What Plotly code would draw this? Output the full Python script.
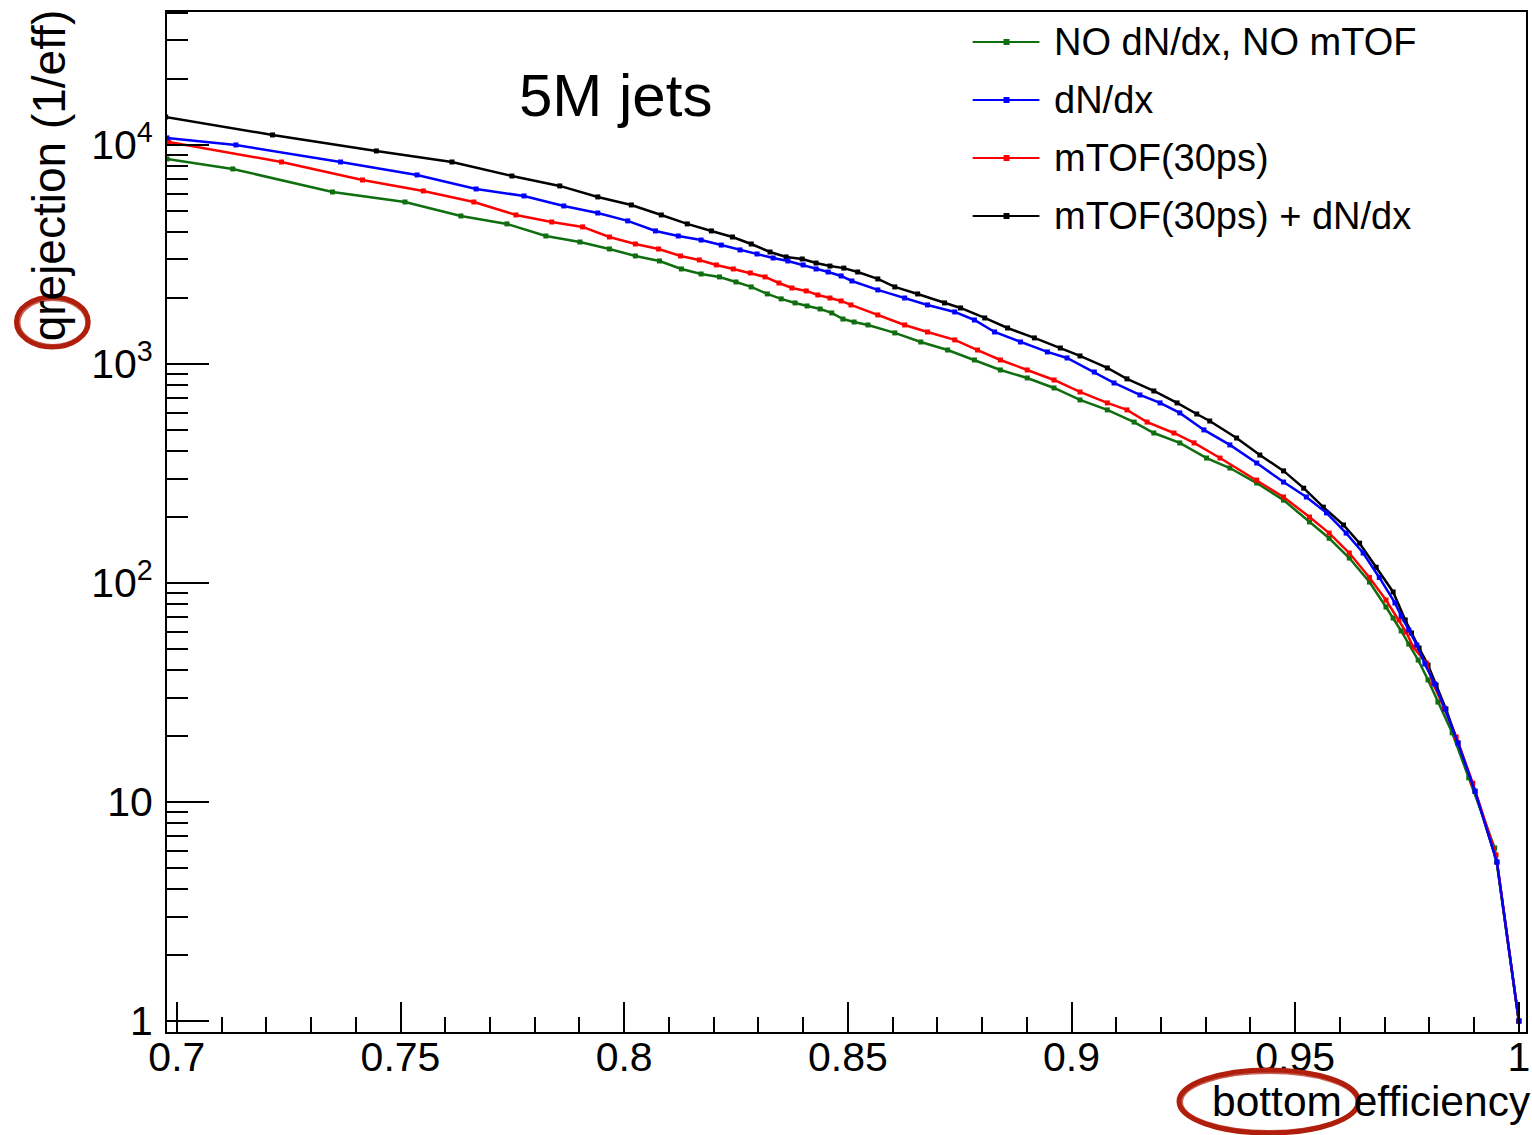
import plotly.graph_objects as go

# ---------------- data ----------------
series_names = ["NO dN/dx, NO mTOF", "dN/dx", "mTOF(30ps)", "mTOF(30ps) + dN/dx"]
series_colors = ["#0f6e0f", "#0000ff", "#ff0000", "#000000"]

eff_green = [0.6978, 0.7125, 0.7348, 0.7510, 0.7635, 0.7738, 0.7825, 0.7901, 0.7967, 0.8025,
             0.8079, 0.8128, 0.8172, 0.8213, 0.8250, 0.8284, 0.8320, 0.8351, 0.8382, 0.8409,
             0.8438, 0.8464, 0.8489, 0.8514, 0.8545, 0.8605, 0.8663, 0.8723, 0.8783, 0.8841,
             0.8901, 0.8961, 0.9019, 0.9080, 0.9140, 0.9184, 0.9242, 0.9302, 0.9354, 0.9414,
             0.9474, 0.9532, 0.9576, 0.9621, 0.9666, 0.9703, 0.9719, 0.9737, 0.9754, 0.9775,
             0.9797, 0.9819, 0.9851, 0.9888, 0.9946, 1.0]
rej_green = [8630, 7770, 6100, 5490, 4740, 4360, 3840, 3605, 3350, 3113,
             2953, 2715, 2576, 2497, 2368, 2248, 2088, 1982, 1900, 1840,
             1783, 1710, 1604, 1555, 1507, 1386, 1260, 1158, 1043, 939,
             863, 777, 685, 617, 543, 484, 436, 372, 335, 286,
             239, 190, 160, 130, 101, 77.7, 69.2, 60.4, 52.6, 44.5,
             36.1, 28.6, 20.7, 12.9, 6.17, 1.0]

eff_blue = [0.6978, 0.7132, 0.7366, 0.7537, 0.7669, 0.7776, 0.7865, 0.7941, 0.8008, 0.8070,
            0.8121, 0.8172, 0.8217, 0.8259, 0.8297, 0.8333, 0.8366, 0.8400, 0.8429, 0.8456,
            0.8485, 0.8509, 0.8567, 0.8627, 0.8678, 0.8739, 0.8783, 0.8828, 0.8886, 0.8946,
            0.8990, 0.9051, 0.9095, 0.9153, 0.9198, 0.9242, 0.9296, 0.9354, 0.9414, 0.9474,
            0.9525, 0.9570, 0.9614, 0.9652, 0.9688, 0.9723, 0.9737, 0.9754, 0.9772, 0.9790,
            0.9812, 0.9835, 0.9864, 0.9902, 0.9951, 1.0]
rej_blue = [10770, 10000, 8360, 7295, 6295, 5850, 5265, 4890, 4500, 4050,
            3840, 3680, 3490, 3316, 3178, 3048, 2953, 2832, 2715, 2630,
            2523, 2393, 2178, 2001, 1860, 1728, 1588, 1400, 1260, 1135,
            1065, 919, 819, 722, 664, 598, 500, 427, 353, 289,
            247, 209, 169, 137, 106, 81.1, 70.7, 61.0, 52.1, 42.7,
            34.6, 26.6, 18.6, 11.2, 5.32, 1.0]

eff_red = [0.6982, 0.7234, 0.7415, 0.7551, 0.7664, 0.7758, 0.7838, 0.7907, 0.7967, 0.8025,
           0.8077, 0.8126, 0.8168, 0.8206, 0.8244, 0.8282, 0.8315, 0.8346, 0.8375, 0.8407,
           0.8433, 0.8460, 0.8485, 0.8507, 0.8567, 0.8627, 0.8678, 0.8739, 0.8790, 0.8841,
           0.8901, 0.8961, 0.9019, 0.9080, 0.9124, 0.9169, 0.9229, 0.9274, 0.9332, 0.9414,
           0.9474, 0.9532, 0.9576, 0.9621, 0.9666, 0.9703, 0.9732, 0.9748, 0.9764, 0.9793,
           0.9808, 0.9833, 0.9860, 0.9897, 0.9949, 1.0]
rej_red = [10320, 8360, 6920, 6165, 5490, 4790, 4450, 4225, 3800, 3530,
           3350, 3113, 2985, 2832, 2715, 2604, 2497, 2343, 2223, 2155,
           2065, 2001, 1940, 1860, 1674, 1507, 1400, 1288, 1158, 1043,
           939, 845, 745, 664, 617, 543, 484, 436, 372, 295,
           247, 200, 169, 137, 106, 83.6, 67.8, 59.7, 51.0, 43.1,
           34.9, 26.9, 19.8, 12.2, 5.73, 1.0]

eff_black = [0.6975, 0.7214, 0.7446, 0.7615, 0.7749, 0.7856, 0.7941, 0.8016, 0.8083, 0.8141,
             0.8195, 0.8242, 0.8284, 0.8326, 0.8362, 0.8398, 0.8429, 0.8460, 0.8491, 0.8522,
             0.8567, 0.8605, 0.8656, 0.8716, 0.8752, 0.8806, 0.8857, 0.8917, 0.8975, 0.9019,
             0.9080, 0.9124, 0.9184, 0.9236, 0.9280, 0.9309, 0.9369, 0.9421, 0.9474, 0.9519,
             0.9563, 0.9608, 0.9644, 0.9681, 0.9719, 0.9746, 0.9760, 0.9777, 0.9797, 0.9815,
             0.9837, 0.9864, 0.9902, 0.9951, 1.0]
rej_black = [13400, 11110, 9390, 8360, 7215, 6500, 5790, 5320, 4790, 4360,
             4050, 3800, 3530, 3245, 3080, 3015, 2890, 2800, 2740, 2630,
             2445, 2248, 2088, 1900, 1802, 1622, 1460, 1315, 1183, 1088,
             959, 855, 753, 664, 591, 549, 459, 384, 325, 271,
             222, 184, 152, 118, 91, 67.8, 59.1, 50.5, 42.2, 34.2,
             26.6, 18.6, 11.2, 5.32, 1.0]

x_tick_vals = [0.7, 0.75, 0.8, 0.85, 0.9, 0.95, 1.0]
x_tick_text = ["0.7", "0.75", "0.8", "0.85", "0.9", "0.95", "1"]
y_tick_vals = [1, 10, 100, 1000, 10000]
y_tick_text = ["1", "10", "10<sup>2</sup>", "10<sup>3</sup>", "10<sup>4</sup>"]
y_minor_vals = [k * 10 ** d for d in range(0, 5) for k in range(2, 10)]

x_title = "bottom efficiency"
y_title = "qrejection (1/eff)"
label_text = "5M jets"

# ---------------- figure ----------------
FONT = "Liberation Sans, Arial, Helvetica, sans-serif"
W, H = 1532, 1135
ML, MR, MT, MB = 167, 2, 12, 103
PW, PH = W - ML - MR, H - MT - MB

fig = go.Figure()
data_sets = {
    0: (eff_green, rej_green),
    1: (eff_blue, rej_blue),
    2: (eff_red, rej_red),
    3: (eff_black, rej_black),
}
for idx in [3, 0, 2, 1]:
    xs, ys = data_sets[idx]
    fig.add_trace(go.Scatter(
        x=xs, y=ys, mode="lines+markers", name=series_names[idx],
        line=dict(color=series_colors[idx], width=2.5),
        marker=dict(symbol="square", size=5, color=series_colors[idx]),
        showlegend=False,
    ))

def px_x(p):
    return (p - ML) / PW

def px_y(p):
    return (H - MB - p) / PH

shapes = []
annotations = []

# custom ROOT-style legend
legend_rows = [42, 100, 158, 216]
for i, name in enumerate(series_names):
    yc = px_y(legend_rows[i])
    shapes.append(dict(type="line", xref="paper", yref="paper",
                       x0=px_x(975), x1=px_x(1042), y0=yc, y1=yc,
                       line=dict(color=series_colors[i], width=2)))
    shapes.append(dict(type="rect", xref="paper", yref="paper",
                       x0=px_x(1006), x1=px_x(1012), y0=yc - 3 / PH, y1=yc + 3 / PH,
                       line=dict(width=0), fillcolor=series_colors[i]))
    annotations.append(dict(xref="paper", yref="paper", x=px_x(1055), y=yc,
                            xanchor="left", yanchor="middle", showarrow=False,
                            text=name, font=dict(family=FONT, size=38, color="black")))

# "5M jets"
annotations.append(dict(xref="paper", yref="paper", x=px_x(617), y=px_y(95),
                        xanchor="center", yanchor="middle", showarrow=False,
                        text=label_text, font=dict(family=FONT, size=60, color="black")))
# axis titles (ROOT style, right/top aligned)
annotations.append(dict(xref="paper", yref="paper", x=px_x(1537), y=px_y(1101),
                        xanchor="right", yanchor="middle", showarrow=False,
                        text=x_title, font=dict(family=FONT, size=42.5, color="black")))
annotations.append(dict(xref="paper", yref="paper", x=px_x(49), y=px_y(7),
                        xanchor="center", yanchor="top", showarrow=False, textangle=-90,
                        text=y_title, font=dict(family=FONT, size=46, color="black")))

# hand-drawn red highlight ellipses
red = "#b01e0c"
for (x0, x1, y0, y1) in [(16, 88, 297, 347), (1182, 1362, 1070, 1133)]:
    shapes.append(dict(type="circle", xref="paper", yref="paper",
                       x0=px_x(x0), x1=px_x(x1), y0=px_y(y1), y1=px_y(y0),
                       line=dict(color=red, width=5)))
    shapes.append(dict(type="circle", xref="paper", yref="paper",
                       x0=px_x(x0 + 3), x1=px_x(x1 - 2), y0=px_y(y1 - 2), y1=px_y(y0 + 3),
                       line=dict(color=red, width=2), opacity=0.7))

fig.update_layout(
    width=W, height=H,
    margin=dict(l=ML, r=MR, t=MT, b=MB, pad=0),
    paper_bgcolor="white", plot_bgcolor="white",
    font=dict(family=FONT, color="black"),
    shapes=shapes, annotations=annotations,
    showlegend=False,
)
fig.update_xaxes(
    range=[0.6978, 1.0016], showgrid=False, zeroline=False,
    showline=True, mirror=True, linecolor="black", linewidth=2,
    ticks="inside", ticklen=30, tickwidth=2, tickcolor="black",
    tickvals=x_tick_vals, ticktext=x_tick_text,
    tickfont=dict(family=FONT, size=41, color="black"),
    ticklabelstandoff=-12, ticklabeloverflow="allow",
    minor=dict(ticks="inside", ticklen=15, tickwidth=2, tickcolor="black",
               dtick=0.01, tick0=0.7, showgrid=False),
)
fig.update_yaxes(
    type="log", range=[-0.050, 4.607], showgrid=False, zeroline=False,
    showline=True, mirror=True, linecolor="black", linewidth=2,
    ticks="inside", ticklen=42, tickwidth=2, tickcolor="black",
    tickvals=y_tick_vals, ticktext=y_tick_text,
    tickfont=dict(family=FONT, size=41, color="black"),
    ticklabelstandoff=4,
    minor=dict(ticks="inside", ticklen=21, tickwidth=2, tickcolor="black",
               tickvals=y_minor_vals, showgrid=False),
)

fig.write_html(
    "out.html",
    config={"displayModeBar": False},
    post_script="document.body.style.margin='0px';document.body.style.overflow='hidden';",
)
